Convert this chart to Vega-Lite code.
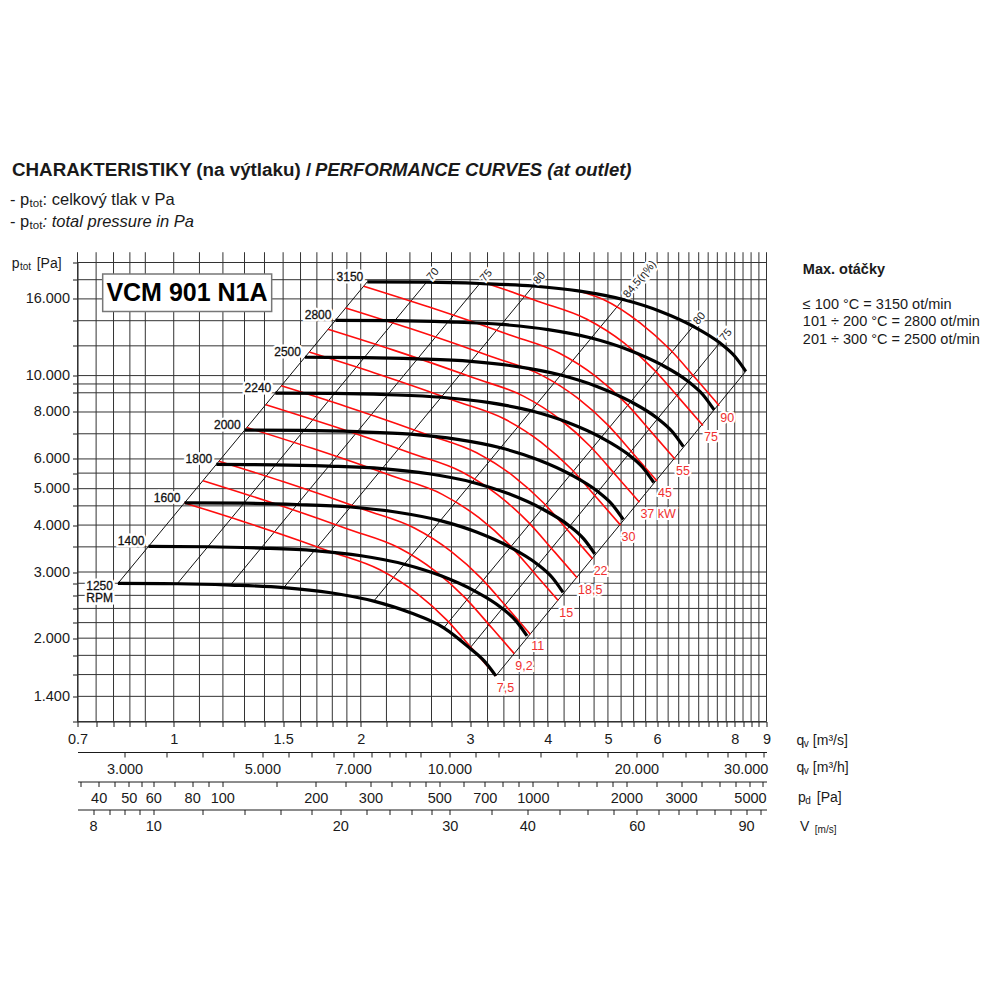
{
  "$schema": "https://vega.github.io/schema/vega-lite/v6.json",
  "width": 689,
  "height": 459,
  "autosize": {"type": "none"},
  "padding": {"left": 77.5, "top": 262.5, "right": 233.5, "bottom": 278.5},
  "background": "white",
  "config": {
    "view": {"stroke": null},
    "font": "Liberation Sans",
    "axis": {"labelFont": "Liberation Sans", "labelColor": "#1a1a1a", "domainColor": "#1a1a1a", "tickColor": "#1a1a1a", "domainWidth": 1, "tickWidth": 1, "labelFontSize": 14.5}
  },
  "datasets": {
    "gridq": [{"q":0.7},{"q":0.75},{"q":0.8},{"q":0.85},{"q":0.9},{"q":1},{"q":1.1},{"q":1.2},{"q":1.3},{"q":1.4},{"q":1.5},{"q":1.6},{"q":1.7},{"q":1.8},{"q":1.9},{"q":2},{"q":2.2},{"q":2.4},{"q":2.6},{"q":2.8},{"q":3},{"q":3.2},{"q":3.4},{"q":3.6},{"q":3.8},{"q":4},{"q":4.25},{"q":4.5},{"q":4.75},{"q":5},{"q":5.25},{"q":5.5},{"q":5.75},{"q":6},{"q":6.25},{"q":6.5},{"q":6.75},{"q":7},{"q":7.25},{"q":7.5},{"q":7.75},{"q":8},{"q":8.25},{"q":8.5},{"q":8.75},{"q":9}],
    "gridp": [{"p":1200},{"p":1400},{"p":1600},{"p":1800},{"p":2000},{"p":2200},{"p":2400},{"p":2600},{"p":2800},{"p":3000},{"p":3500},{"p":4000},{"p":4500},{"p":5000},{"p":5500},{"p":6000},{"p":7000},{"p":8000},{"p":9000},{"p":9500},{"p":10000},{"p":12000},{"p":14000},{"p":16000},{"p":18000},{"p":20000}],
    "rpm": [
      {"n":3150,"q":2.049,"p":17763},{"n":3150,"q":2.553,"p":17727},{"n":3150,"q":3.11,"p":17586},{"n":3150,"q":3.79,"p":17317},{"n":3150,"q":4.507,"p":16775},{"n":3150,"q":5.289,"p":15936},{"n":3150,"q":6.061,"p":14836},{"n":3150,"q":6.857,"p":13530},{"n":3150,"q":7.568,"p":12221},{"n":3150,"q":8.0,"p":11256},{"n":3150,"q":8.334,"p":10267},
      {"n":2800,"q":1.8213,"p":14035},{"n":2800,"q":2.2693,"p":14006},{"n":2800,"q":2.7644,"p":13895},{"n":2800,"q":3.3689,"p":13683},{"n":2800,"q":4.0062,"p":13254},{"n":2800,"q":4.7013,"p":12591},{"n":2800,"q":5.3876,"p":11722},{"n":2800,"q":6.0951,"p":10690},{"n":2800,"q":6.7271,"p":9656},{"n":2800,"q":7.1111,"p":8894},{"n":2800,"q":7.408,"p":8112},
      {"n":2500,"q":1.6262,"p":11189},{"n":2500,"q":2.0262,"p":11166},{"n":2500,"q":2.4683,"p":11077},{"n":2500,"q":3.0079,"p":10908},{"n":2500,"q":3.577,"p":10566},{"n":2500,"q":4.1976,"p":10037},{"n":2500,"q":4.8103,"p":9345},{"n":2500,"q":5.4421,"p":8522},{"n":2500,"q":6.0063,"p":7698},{"n":2500,"q":6.3492,"p":7090},{"n":2500,"q":6.6143,"p":6467},
      {"n":2240,"q":1.4571,"p":8982},{"n":2240,"q":1.8155,"p":8964},{"n":2240,"q":2.2116,"p":8893},{"n":2240,"q":2.6951,"p":8756},{"n":2240,"q":3.205,"p":8483},{"n":2240,"q":3.7611,"p":8059},{"n":2240,"q":4.31,"p":7502},{"n":2240,"q":4.8761,"p":6842},{"n":2240,"q":5.3817,"p":6180},{"n":2240,"q":5.6889,"p":5692},{"n":2240,"q":5.9264,"p":5192},
      {"n":2000,"q":1.301,"p":7161},{"n":2000,"q":1.621,"p":7146},{"n":2000,"q":1.9746,"p":7089},{"n":2000,"q":2.4064,"p":6981},{"n":2000,"q":2.8616,"p":6763},{"n":2000,"q":3.3581,"p":6424},{"n":2000,"q":3.8483,"p":5981},{"n":2000,"q":4.3537,"p":5454},{"n":2000,"q":4.8051,"p":4927},{"n":2000,"q":5.0794,"p":4538},{"n":2000,"q":5.2914,"p":4139},
      {"n":1800,"q":1.1709,"p":5800},{"n":1800,"q":1.4589,"p":5788},{"n":1800,"q":1.7772,"p":5742},{"n":1800,"q":2.1657,"p":5655},{"n":1800,"q":2.5754,"p":5478},{"n":1800,"q":3.0223,"p":5203},{"n":1800,"q":3.4634,"p":4844},{"n":1800,"q":3.9183,"p":4418},{"n":1800,"q":4.3246,"p":3991},{"n":1800,"q":4.5714,"p":3675},{"n":1800,"q":4.7623,"p":3352},
      {"n":1600,"q":1.0408,"p":4583},{"n":1600,"q":1.2968,"p":4574},{"n":1600,"q":1.5797,"p":4537},{"n":1600,"q":1.9251,"p":4468},{"n":1600,"q":2.2893,"p":4328},{"n":1600,"q":2.6865,"p":4111},{"n":1600,"q":3.0786,"p":3828},{"n":1600,"q":3.4829,"p":3491},{"n":1600,"q":3.8441,"p":3153},{"n":1600,"q":4.0635,"p":2904},{"n":1600,"q":4.2332,"p":2649},
      {"n":1400,"q":0.9107,"p":3509},{"n":1400,"q":1.1347,"p":3502},{"n":1400,"q":1.3822,"p":3474},{"n":1400,"q":1.6844,"p":3421},{"n":1400,"q":2.0031,"p":3314},{"n":1400,"q":2.3506,"p":3147},{"n":1400,"q":2.6938,"p":2931},{"n":1400,"q":3.0475,"p":2673},{"n":1400,"q":3.3635,"p":2414},{"n":1400,"q":3.5555,"p":2223},{"n":1400,"q":3.704,"p":2028},
      {"n":1250,"q":0.8131,"p":2797},{"n":1250,"q":1.0131,"p":2792},{"n":1250,"q":1.2341,"p":2769},{"n":1250,"q":1.504,"p":2727},{"n":1250,"q":1.7885,"p":2642},{"n":1250,"q":2.0988,"p":2509},{"n":1250,"q":2.4052,"p":2336},{"n":1250,"q":2.7211,"p":2131},{"n":1250,"q":2.9972,"p":1881},{"n":1250,"q":3.16,"p":1740},{"n":1250,"q":3.3004,"p":1587}
    ],
    "kw": [
      {"kw":"7,5","q":1.0408,"p":4583},{"kw":"7,5","q":1.3264,"p":4033},{"kw":"7,5","q":1.5966,"p":3634},{"kw":"7,5","q":1.7842,"p":3403},{"kw":"7,5","q":2.1473,"p":3042},{"kw":"7,5","q":2.4602,"p":2636},{"kw":"7,5","q":2.7495,"p":2238},{"kw":"7,5","q":3.0342,"p":1862},{"kw":"7,5","q":3.3004,"p":1587},
      {"kw":"9,2","q":1.1141,"p":5252},{"kw":"9,2","q":1.4199,"p":4621},{"kw":"9,2","q":1.7091,"p":4164},{"kw":"9,2","q":1.9099,"p":3900},{"kw":"9,2","q":2.2986,"p":3486},{"kw":"9,2","q":2.6336,"p":3021},{"kw":"9,2","q":2.9432,"p":2565},{"kw":"9,2","q":3.248,"p":2134},{"kw":"9,2","q":3.533,"p":1819},
      {"kw":"11","q":1.1825,"p":5916},{"kw":"11","q":1.507,"p":5206},{"kw":"11","q":1.814,"p":4691},{"kw":"11","q":2.0272,"p":4393},{"kw":"11","q":2.4397,"p":3927},{"kw":"11","q":2.7952,"p":3403},{"kw":"11","q":3.1239,"p":2889},{"kw":"11","q":3.4474,"p":2404},{"kw":"11","q":3.7498,"p":2049},
      {"kw":"15","q":1.3113,"p":7275},{"kw":"15","q":1.6712,"p":6402},{"kw":"15","q":2.0116,"p":5769},{"kw":"15","q":2.248,"p":5402},{"kw":"15","q":2.7054,"p":4829},{"kw":"15","q":3.0997,"p":4184},{"kw":"15","q":3.4642,"p":3553},{"kw":"15","q":3.8229,"p":2956},{"kw":"15","q":4.1582,"p":2519},
      {"kw":"18,5","q":1.4063,"p":8367},{"kw":"18,5","q":1.7921,"p":7362},{"kw":"18,5","q":2.1572,"p":6634},{"kw":"18,5","q":2.4107,"p":6212},{"kw":"18,5","q":2.9013,"p":5553},{"kw":"18,5","q":3.3241,"p":4812},{"kw":"18,5","q":3.7149,"p":4086},{"kw":"18,5","q":4.0996,"p":3399},{"kw":"18,5","q":4.4593,"p":2897},
      {"kw":"22","q":1.4899,"p":9391},{"kw":"22","q":1.8987,"p":8264},{"kw":"22","q":2.2855,"p":7446},{"kw":"22","q":2.554,"p":6973},{"kw":"22","q":3.0738,"p":6233},{"kw":"22","q":3.5217,"p":5401},{"kw":"22","q":3.9358,"p":4586},{"kw":"22","q":4.3433,"p":3815},{"kw":"22","q":4.7244,"p":3252},
      {"kw":"30","q":1.6522,"p":11548},{"kw":"30","q":2.1055,"p":10163},{"kw":"30","q":2.5344,"p":9157},{"kw":"30","q":2.8322,"p":8575},{"kw":"30","q":3.4086,"p":7665},{"kw":"30","q":3.9053,"p":6642},{"kw":"30","q":4.3646,"p":5639},{"kw":"30","q":4.8165,"p":4692},{"kw":"30","q":5.2391,"p":3999},
      {"kw":"37","q":1.7719,"p":13283},{"kw":"37","q":2.2581,"p":11689},{"kw":"37","q":2.7181,"p":10532},{"kw":"37","q":3.0375,"p":9863},{"kw":"37","q":3.6556,"p":8817},{"kw":"37","q":4.1883,"p":7640},{"kw":"37","q":4.6808,"p":6486},{"kw":"37","q":5.1655,"p":5397},{"kw":"37","q":5.6187,"p":4600},
      {"kw":"45","q":1.8913,"p":15133},{"kw":"45","q":2.4102,"p":13317},{"kw":"45","q":2.9012,"p":11999},{"kw":"45","q":3.2421,"p":11237},{"kw":"45","q":3.9019,"p":10045},{"kw":"45","q":4.4705,"p":8704},{"kw":"45","q":4.9962,"p":7390},{"kw":"45","q":5.5135,"p":6148},{"kw":"45","q":5.9972,"p":5240},
      {"kw":"55","q":2.0222,"p":17301},{"kw":"55","q":2.5771,"p":15225},{"kw":"55","q":3.1021,"p":13719},{"kw":"55","q":3.4666,"p":12847},{"kw":"55","q":4.1721,"p":11484},{"kw":"55","q":4.7801,"p":9951},{"kw":"55","q":5.3421,"p":8449},{"kw":"55","q":5.8953,"p":7029},{"kw":"55","q":6.4125,"p":5991},
      {"kw":"75","q":3.219,"p":17510},{"kw":"75","q":3.4398,"p":16868},{"kw":"75","q":3.8439,"p":15795},{"kw":"75","q":4.6262,"p":14120},{"kw":"75","q":5.3003,"p":12235},{"kw":"75","q":5.9236,"p":10388},{"kw":"75","q":6.537,"p":8643},{"kw":"75","q":7.1105,"p":7366},
      {"kw":"90","q":4.48,"p":16800},{"kw":"90","q":4.9161,"p":15945},{"kw":"90","q":5.6325,"p":13817},{"kw":"90","q":6.2948,"p":11730},{"kw":"90","q":6.9466,"p":9760},{"kw":"90","q":7.556,"p":8318}
    ],
    "eff": [
      {"id":"s","q":2.049,"p":17763},{"id":"s","q":0.8131,"p":2797},
      {"id":"e70","q":2.553,"p":17727},{"id":"e70","q":1.0131,"p":2792},
      {"id":"e75","q":3.11,"p":17586},{"id":"e75","q":1.2341,"p":2769},
      {"id":"e80","q":3.79,"p":17317},{"id":"e80","q":1.504,"p":2727},
      {"id":"e845","q":5.289,"p":15936},{"id":"e845","q":2.0988,"p":2509},
      {"id":"e80b","q":6.857,"p":13530},{"id":"e80b","q":2.7211,"p":2131},
      {"id":"e75b","q":7.568,"p":12221},{"id":"e75b","q":2.9972,"p":1881},
      {"id":"e","q":8.334,"p":10267},{"id":"e","q":3.3004,"p":1587}
    ],
    "efflab": [{"t":"70","q":2.553,"p":17727},{"t":"75","q":3.11,"p":17586},{"t":"80","q":3.79,"p":17317},{"t":"84,5(η%)","q":5.289,"p":15936},{"t":"80","q":6.857,"p":13530},{"t":"75","q":7.568,"p":12221}],
    "rpmlab": [{"t":"3150","q":2.049,"p":17763},{"t":"2800","q":1.8213,"p":14035},{"t":"2500","q":1.6262,"p":11189},{"t":"2240","q":1.4571,"p":8982},{"t":"2000","q":1.301,"p":7161},{"t":"1800","q":1.1709,"p":5800},{"t":"1600","q":1.0408,"p":4583},{"t":"1400","q":0.9107,"p":3509}],
    "rpmlab2": [{"t":"1250\nRPM","q":0.8131,"p":2797}],
    "kwlab": [{"t":"7,5","q":3.3004,"p":1587},{"t":"9,2","q":3.533,"p":1819},{"t":"11","q":3.7498,"p":2049},{"t":"15","q":4.1582,"p":2519},{"t":"18,5","q":4.4593,"p":2897},{"t":"22","q":4.7244,"p":3252},{"t":"30","q":5.2391,"p":3999},{"t":"37 kW","q":5.6187,"p":4600},{"t":"45","q":5.9972,"p":5240},{"t":"55","q":6.4125,"p":5991},{"t":"75","q":7.1105,"p":7366},{"t":"90","q":7.556,"p":8318}],
    "box": [{"q":0.7685,"q2":1.4377,"p":18639,"p2":14814}],
    "notes": [
      {"k":"h1","q":0.549,"p":35260,"t":"CHARAKTERISTIKY (na výtlaku) /"},
      {"k":"h1i","q":1.6878,"p":35260,"t":"PERFORMANCE CURVES (at outlet)"},
      {"k":"s","q":0.545,"p":29334,"t":"- p"},
      {"k":"s","q":0.6149,"p":29334,"t":": celkový tlak v Pa"},
      {"k":"s","q":0.545,"p":25638,"t":"- p"},
      {"k":"si","q":0.6149,"p":25638,"t":": total pressure in Pa"},
      {"k":"ss","q":0.586,"p":29334,"t":"tot"},
      {"k":"ss","q":0.586,"p":25638,"t":"tot"},
      {"k":"a","q":0.5484,"p":19817,"t":"p"},
      {"k":"a","q":0.6018,"p":19817,"t":"[Pa]"},
      {"k":"as","q":0.5656,"p":19817,"t":"tot"},
      {"k":"a","q":10.06,"p":1064.3,"t":"q"},
      {"k":"as","q":10.336,"p":1064.3,"t":"v"},
      {"k":"a","q":10.686,"p":1064.3,"t":"[m³/s]"},
      {"k":"a","q":10.06,"p":902.1,"t":"q"},
      {"k":"as","q":10.336,"p":902.1,"t":"v"},
      {"k":"a","q":10.686,"p":902.1,"t":"[m³/h]"},
      {"k":"a","q":10.119,"p":750.6,"t":"p"},
      {"k":"as","q":10.393,"p":750.6,"t":"d"},
      {"k":"a","q":10.846,"p":750.6,"t":"[Pa]"},
      {"k":"a","q":10.19,"p":628.3,"t":"V"},
      {"k":"as","q":10.766,"p":628.3,"t":"[m/s]"},
      {"k":"rb","q":10.297,"p":19102,"t":"Max. otáčky"},
      {"k":"r","q":10.297,"p":15411,"t":"≤ 100 °C = 3150 ot/min"},
      {"k":"r","q":10.297,"p":13888,"t":"101 ÷ 200 °C = 2800 ot/min"},
      {"k":"r","q":10.297,"p":12439,"t":"201 ÷ 300 °C = 2500 ot/min"},
      {"k":"box","q":1.0503,"p":16639,"t":"VCM 901 N1A"}
    ]
  },
  "layer": [
    {
      "layer": [
        {
          "data": {"name": "gridq"},
          "mark": {"type": "rule", "color": "#333333", "strokeWidth": 1},
          "encoding": {
            "x": {"field": "q", "type": "quantitative", "title": null,
              "scale": {"type": "log", "domain": [0.7, 9], "nice": false, "zero": false},
              "axis": {"orient": "bottom", "offset": 0, "title": null, "grid": false,
                "values": [0.7,0.75,0.8,0.85,0.9,1,1.1,1.2,1.3,1.4,1.5,1.6,1.7,1.8,1.9,2,2.2,2.4,2.6,2.8,3,3.2,3.4,3.6,3.8,4,4.25,4.5,4.75,5,5.25,5.5,5.75,6,6.25,6.5,6.75,7,7.25,7.5,7.75,8,8.25,8.5,8.75,9],
                "tickSize": 5, "labelPadding": 6, "labelOverlap": false, "labelFlush": false, "labelBound": false,
                "labelExpr": "indexof([0.7,1,1.5,2,3,4,5,6,8,9], datum.value) >= 0 ? '' + datum.value : ''"}},
            "y": {"datum": 1200, "type": "quantitative", "title": null,
              "scale": {"type": "log", "domain": [1200, 20000], "nice": false, "zero": false}},
            "y2": {"datum": 21300}
          }
        },
        {
          "data": {"name": "gridp"},
          "mark": {"type": "rule", "color": "#333333", "strokeWidth": 1},
          "encoding": {
            "y": {"field": "p", "type": "quantitative", "title": null,
              "scale": {"type": "log", "domain": [1200, 20000], "nice": false, "zero": false},
              "axis": {"orient": "left", "title": null, "grid": false,
                "values": [1200,1400,1600,1800,2000,2200,2400,2600,2800,3000,3500,4000,4500,5000,5500,6000,7000,8000,9000,9500,10000,12000,14000,16000,18000,20000],
                "tickSize": 5, "labelPadding": 3, "labelOverlap": false, "labelFlush": false, "labelBound": false,
                "labelExpr": "indexof([1400,2000,3000,4000,5000,6000,8000,10000,16000], datum.value) >= 0 ? replace(format(datum.value, ','), ',', '.') : ''"}},
            "x": {"datum": 0.7, "type": "quantitative", "title": null},
            "x2": {"datum": 9}
          }
        },
        {
          "data": {"name": "box"},
          "mark": {"type": "rect", "fill": "white", "stroke": "#777777", "strokeWidth": 1.5},
          "encoding": {
            "x": {"field": "q", "type": "quantitative", "title": null},
            "x2": {"field": "q2"},
            "y": {"field": "p", "type": "quantitative", "title": null},
            "y2": {"field": "p2"}
          }
        },
        {
          "data": {"name": "eff"},
          "mark": {"type": "line", "color": "#111111", "strokeWidth": 1},
          "encoding": {
            "x": {"field": "q", "type": "quantitative", "title": null},
            "y": {"field": "p", "type": "quantitative", "title": null},
            "detail": {"field": "id"}
          }
        },
        {
          "data": {"name": "kw"},
          "mark": {"type": "line", "color": "#ff0d0d", "strokeWidth": 1.6, "interpolate": "monotone"},
          "encoding": {
            "x": {"field": "q", "type": "quantitative", "title": null},
            "y": {"field": "p", "type": "quantitative", "title": null},
            "detail": {"field": "kw"}
          }
        },
        {
          "data": {"name": "rpm"},
          "mark": {"type": "line", "color": "#000000", "strokeWidth": 3.2, "interpolate": "monotone"},
          "encoding": {
            "x": {"field": "q", "type": "quantitative", "title": null},
            "y": {"field": "p", "type": "quantitative", "title": null},
            "detail": {"field": "n"}
          }
        },
        {
          "data": {"name": "efflab"},
          "mark": {"type": "text", "align": "left", "baseline": "middle", "angle": 310, "dx": 4, "fontSize": 11, "color": "white", "stroke": "white", "strokeWidth": 4},
          "encoding": {"x": {"field": "q", "type": "quantitative", "title": null}, "y": {"field": "p", "type": "quantitative", "title": null}, "text": {"field": "t"}}
        },
        {
          "data": {"name": "efflab"},
          "mark": {"type": "text", "align": "left", "baseline": "middle", "angle": 310, "dx": 4, "fontSize": 11, "color": "#222222"},
          "encoding": {"x": {"field": "q", "type": "quantitative", "title": null}, "y": {"field": "p", "type": "quantitative", "title": null}, "text": {"field": "t"}}
        },
        {
          "data": {"name": "rpmlab"},
          "mark": {"type": "text", "align": "right", "baseline": "middle", "dx": -4, "dy": -5, "fontSize": 12, "color": "white", "stroke": "white", "strokeWidth": 5},
          "encoding": {"x": {"field": "q", "type": "quantitative", "title": null}, "y": {"field": "p", "type": "quantitative", "title": null}, "text": {"field": "t"}}
        },
        {
          "data": {"name": "rpmlab"},
          "mark": {"type": "text", "align": "right", "baseline": "middle", "dx": -4, "dy": -5, "fontSize": 12, "color": "#111111", "stroke": "#111111", "strokeWidth": 0.3},
          "encoding": {"x": {"field": "q", "type": "quantitative", "title": null}, "y": {"field": "p", "type": "quantitative", "title": null}, "text": {"field": "t"}}
        },
        {
          "data": {"name": "rpmlab2"},
          "mark": {"type": "text", "align": "right", "baseline": "middle", "dx": -5, "dy": 3, "fontSize": 12, "lineHeight": 12, "lineBreak": "\n", "color": "white", "stroke": "white", "strokeWidth": 5},
          "encoding": {"x": {"field": "q", "type": "quantitative", "title": null}, "y": {"field": "p", "type": "quantitative", "title": null}, "text": {"field": "t"}}
        },
        {
          "data": {"name": "rpmlab2"},
          "mark": {"type": "text", "align": "right", "baseline": "middle", "dx": -5, "dy": 3, "fontSize": 12, "lineHeight": 12, "lineBreak": "\n", "color": "#111111", "stroke": "#111111", "strokeWidth": 0.3},
          "encoding": {"x": {"field": "q", "type": "quantitative", "title": null}, "y": {"field": "p", "type": "quantitative", "title": null}, "text": {"field": "t"}}
        },
        {
          "data": {"name": "kwlab"},
          "mark": {"type": "text", "align": "left", "baseline": "middle", "dx": 1, "dy": 12, "fontSize": 12.5, "color": "white", "stroke": "white", "strokeWidth": 4},
          "encoding": {"x": {"field": "q", "type": "quantitative", "title": null}, "y": {"field": "p", "type": "quantitative", "title": null}, "text": {"field": "t"}}
        },
        {
          "data": {"name": "kwlab"},
          "mark": {"type": "text", "align": "left", "baseline": "middle", "dx": 1, "dy": 12, "fontSize": 12.5, "color": "#f03030"},
          "encoding": {"x": {"field": "q", "type": "quantitative", "title": null}, "y": {"field": "p", "type": "quantitative", "title": null}, "text": {"field": "t"}}
        },
        {
          "data": {"name": "notes"},
          "transform": [{"filter": "datum.k == 'h1'"}],
          "mark": {"type": "text", "align": "left", "baseline": "middle", "fontSize": 18.8, "fontWeight": "bold", "color": "#1a1a1a"},
          "encoding": {"x": {"field": "q", "type": "quantitative", "title": null}, "y": {"field": "p", "type": "quantitative", "title": null}, "text": {"field": "t"}}
        },
        {
          "data": {"name": "notes"},
          "transform": [{"filter": "datum.k == 'h1i'"}],
          "mark": {"type": "text", "align": "left", "baseline": "middle", "fontSize": 18.5, "fontWeight": "bold", "fontStyle": "italic", "color": "#1a1a1a"},
          "encoding": {"x": {"field": "q", "type": "quantitative", "title": null}, "y": {"field": "p", "type": "quantitative", "title": null}, "text": {"field": "t"}}
        },
        {
          "data": {"name": "notes"},
          "transform": [{"filter": "datum.k == 's'"}],
          "mark": {"type": "text", "align": "left", "baseline": "middle", "fontSize": 16.5, "color": "#1a1a1a"},
          "encoding": {"x": {"field": "q", "type": "quantitative", "title": null}, "y": {"field": "p", "type": "quantitative", "title": null}, "text": {"field": "t"}}
        },
        {
          "data": {"name": "notes"},
          "transform": [{"filter": "datum.k == 'si'"}],
          "mark": {"type": "text", "align": "left", "baseline": "middle", "fontSize": 16.5, "fontStyle": "italic", "color": "#1a1a1a"},
          "encoding": {"x": {"field": "q", "type": "quantitative", "title": null}, "y": {"field": "p", "type": "quantitative", "title": null}, "text": {"field": "t"}}
        },
        {
          "data": {"name": "notes"},
          "transform": [{"filter": "datum.k == 'ss'"}],
          "mark": {"type": "text", "align": "left", "baseline": "middle", "dy": 4, "fontSize": 11.5, "color": "#1a1a1a"},
          "encoding": {"x": {"field": "q", "type": "quantitative", "title": null}, "y": {"field": "p", "type": "quantitative", "title": null}, "text": {"field": "t"}}
        },
        {
          "data": {"name": "notes"},
          "transform": [{"filter": "datum.k == 'a'"}],
          "mark": {"type": "text", "align": "left", "baseline": "middle", "fontSize": 14, "color": "#1a1a1a"},
          "encoding": {"x": {"field": "q", "type": "quantitative", "title": null}, "y": {"field": "p", "type": "quantitative", "title": null}, "text": {"field": "t"}}
        },
        {
          "data": {"name": "notes"},
          "transform": [{"filter": "datum.k == 'as'"}],
          "mark": {"type": "text", "align": "left", "baseline": "middle", "dy": 3, "fontSize": 10, "color": "#1a1a1a"},
          "encoding": {"x": {"field": "q", "type": "quantitative", "title": null}, "y": {"field": "p", "type": "quantitative", "title": null}, "text": {"field": "t"}}
        },
        {
          "data": {"name": "notes"},
          "transform": [{"filter": "datum.k == 'rb'"}],
          "mark": {"type": "text", "align": "left", "baseline": "middle", "fontSize": 14.5, "fontWeight": "bold", "color": "#1a1a1a"},
          "encoding": {"x": {"field": "q", "type": "quantitative", "title": null}, "y": {"field": "p", "type": "quantitative", "title": null}, "text": {"field": "t"}}
        },
        {
          "data": {"name": "notes"},
          "transform": [{"filter": "datum.k == 'r'"}],
          "mark": {"type": "text", "align": "left", "baseline": "middle", "fontSize": 14.5, "color": "#1a1a1a"},
          "encoding": {"x": {"field": "q", "type": "quantitative", "title": null}, "y": {"field": "p", "type": "quantitative", "title": null}, "text": {"field": "t"}}
        },
        {
          "data": {"name": "notes"},
          "transform": [{"filter": "datum.k == 'box'"}],
          "mark": {"type": "text", "align": "center", "baseline": "middle", "fontSize": 25, "fontWeight": "bold", "color": "#000000"},
          "encoding": {"x": {"field": "q", "type": "quantitative", "title": null}, "y": {"field": "p", "type": "quantitative", "title": null}, "text": {"field": "t"}}
        }
      ]
    },
    {
      "data": {"values": [{"m3h": 2520}, {"m3h": 32400}]},
      "mark": {"type": "point", "opacity": 0},
      "encoding": {
        "x": {"field": "m3h", "type": "quantitative", "title": null,
          "scale": {"type": "log", "domain": [2520, 32400], "nice": false, "zero": false},
          "axis": {"orient": "bottom", "offset": 30.5, "title": null, "grid": false,
            "values": [3000,3500,4000,4500,5000,5500,6000,6500,7000,7500,8000,8500,9000,10000,11000,12000,14000,16000,18000,20000,22000,24000,26000,28000,30000,32000],
            "tickSize": 5, "labelPadding": 5, "labelOverlap": false, "labelFlush": false, "labelBound": false,
            "labelExpr": "indexof([3000,5000,7000,10000,20000,30000], datum.value) >= 0 ? replace(format(datum.value, ','), ',', '.') : ''"}}
      }
    },
    {
      "data": {"values": [{"pd": 34.2}, {"pd": 5653}]},
      "mark": {"type": "point", "opacity": 0},
      "encoding": {
        "x": {"field": "pd", "type": "quantitative", "title": null,
          "scale": {"type": "log", "domain": [34.2, 5653], "nice": false, "zero": false},
          "axis": {"orient": "bottom", "offset": 60, "title": null, "grid": false,
            "values": [35,40,45,50,55,60,70,80,90,100,150,200,250,300,350,400,450,500,600,700,800,900,1000,1200,1400,1600,1800,2000,2500,3000,3500,4000,4500,5000,5500],
            "tickSize": 5, "labelPadding": 5, "labelOverlap": false, "labelFlush": false, "labelBound": false,
            "labelExpr": "indexof([40,50,60,80,100,200,300,500,700,1000,2000,3000,5000], datum.value) >= 0 ? '' + datum.value : ''"}}
      }
    },
    {
      "data": {"values": [{"v": 7.55}, {"v": 97.07}]},
      "mark": {"type": "point", "opacity": 0},
      "encoding": {
        "x": {"field": "v", "type": "quantitative", "title": null,
          "scale": {"type": "log", "domain": [7.55, 97.07], "nice": false, "zero": false},
          "axis": {"orient": "bottom", "offset": 88, "title": null, "grid": false,
            "values": [8,8.5,9,9.5,10,12,14,16,18,20,22,24,26,28,30,35,40,45,50,55,60,65,70,75,80,85,90,95],
            "tickSize": 5, "labelPadding": 5, "labelOverlap": false, "labelFlush": false, "labelBound": false,
            "labelExpr": "indexof([8,10,20,30,40,60,90], datum.value) >= 0 ? '' + datum.value : ''"}}
      }
    }
  ],
  "resolve": {"scale": {"x": "independent"}, "axis": {"x": "independent"}}
}
